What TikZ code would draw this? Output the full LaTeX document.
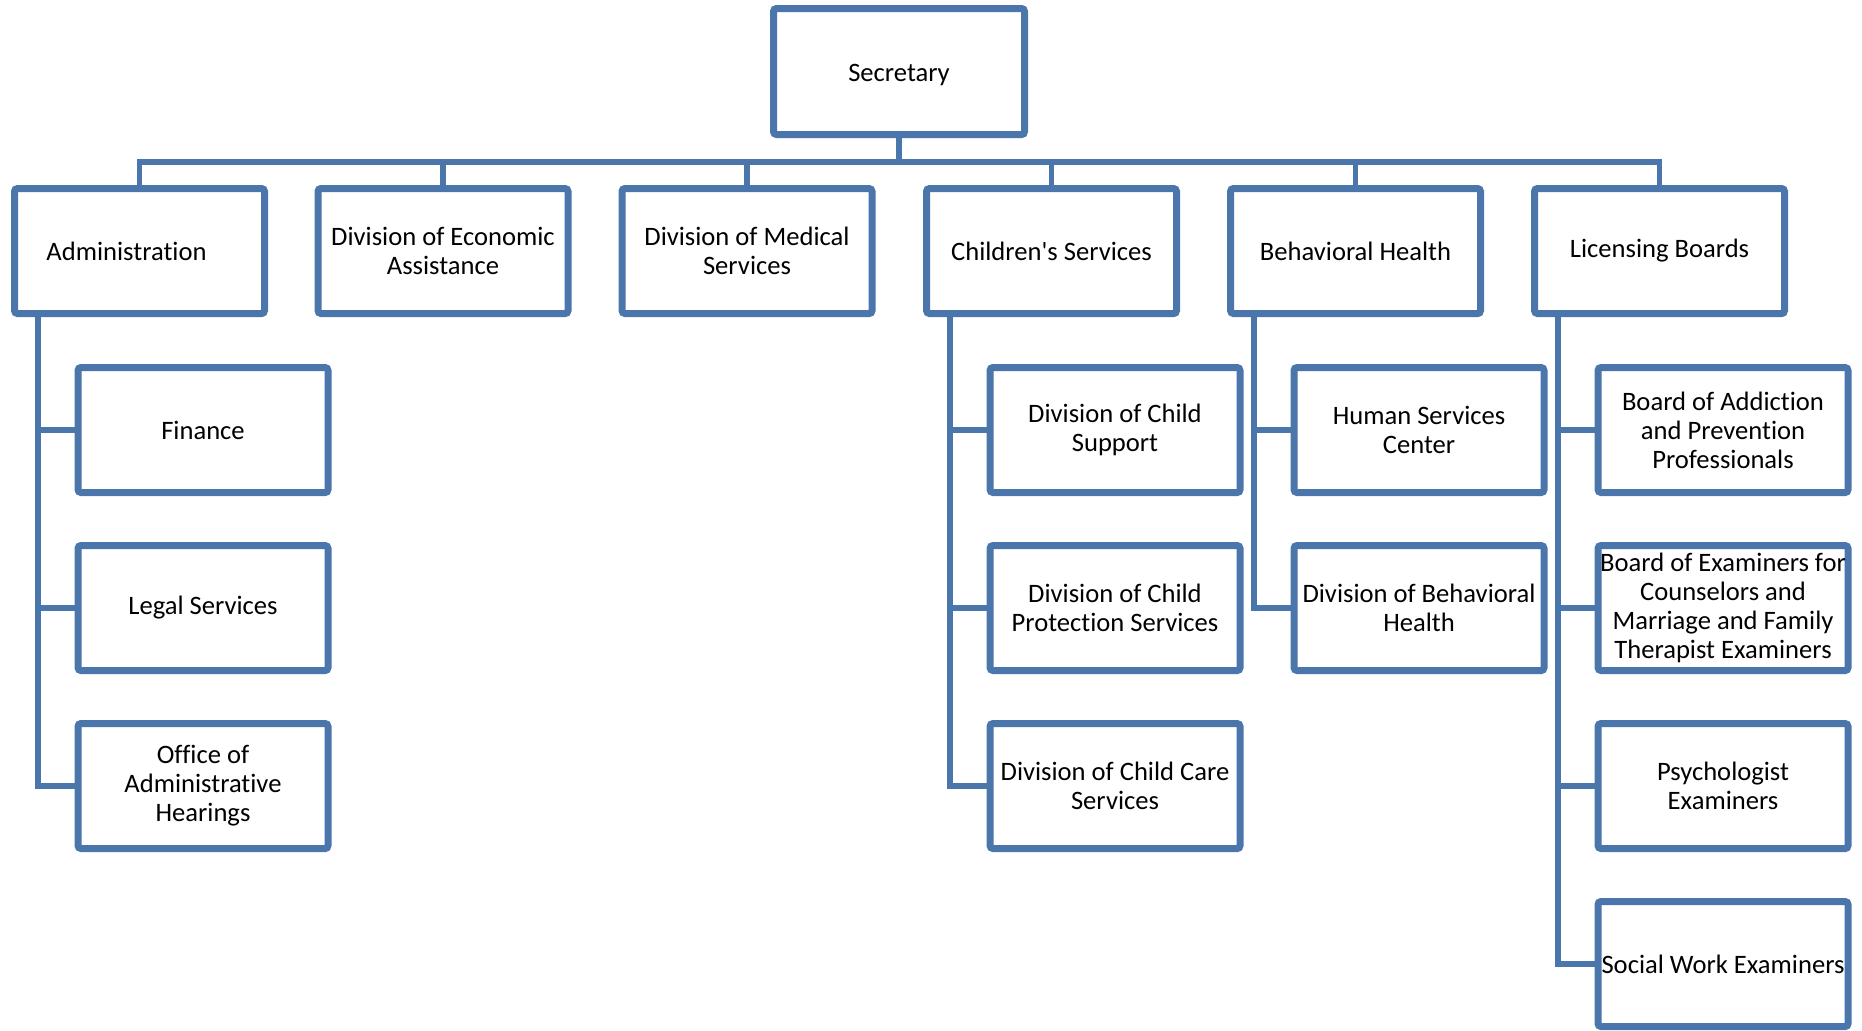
\documentclass[tikz,border=0pt]{standalone}
\usepackage{fontspec}
\setmainfont[Ligatures={NoCommon}]{Carlito}
\usetikzlibrary{shadows,backgrounds}
\definecolor{bblue}{HTML}{4A76AC}
\begin{document}
\begin{tikzpicture}[x=0.5pt,y=-0.5pt,
  box/.style={draw=bblue, line width=3.5pt, fill=white, rounded corners=1.5pt,
    minimum width=125pt, minimum height=62.5pt, inner sep=0pt, align=center,
    font=\fontsize{13.3}{14.5}\selectfont,
    drop shadow={opacity=0.3, shadow xshift=1.2pt, shadow yshift=-1.5pt, fill=black!60}},
  conn/.style={draw=bblue, line width=2.8pt}]
\useasboundingbox (0,0) rectangle (1862,1030);
% top
\node[box, minimum width=125.5pt, minimum height=63pt] (sec) at (899,71.5) {\raisebox{-1.8pt}[\height][\depth]{Secretary}};
% first level
\node[box] (adm) at (139.5,251) {\kern-6.5pt Administration\kern6.5pt};
\node[box] (eco) at (443,251) {Division of Economic\\Assistance};
\node[box] (med) at (747,251) {Division of Medical\\Services};
\node[box] (chi) at (1051.5,251) {Children\textquotesingle s Services};
\node[box] (beh) at (1355.5,251) {Behavioral Health};
\node[box] (lic) at (1659.5,251) {Licensing Boards};
% second level
\node[box] (fin) at (203,430) {Finance};
\node[box] (leg) at (203,608) {Legal Services};
\node[box] (oah) at (203,786) {Office of\\Administrative\\Hearings};
\node[box] (dcs) at (1115,430) {Division of Child\\Support};
\node[box] (dcp) at (1115,608) {Division of Child\\Protection Services};
\node[box] (dcc) at (1115,786) {Division of Child Care\\Services};
\node[box] (hsc) at (1419,430) {Human Services\\Center};
\node[box] (dbh) at (1419,608) {Division of Behavioral\\Health};
\node[box] (bap) at (1723,430) {Board of Addiction\\and Prevention\\Professionals};
\node[box] (bec) at (1723,608) {Board of Examiners for\\Counselors and\\Marriage and Family\\Therapist Examiners};
\node[box] (psy) at (1723,786) {Psychologist\\Examiners};
\node[box] (swe) at (1723,964) {Social Work Examiners};
% connectors
\coordinate (bus) at (0,162);
\coordinate (va) at (38,0);
\coordinate (vc) at (950,0);
\coordinate (vb) at (1254,0);
\coordinate (vl) at (1558,0);
\begin{scope}[on background layer]
\draw[conn] (sec.south) -- (sec.south |- bus);
\draw[conn] (adm.north) |- (lic.north |- bus) -- (lic.north);
\foreach \n in {eco,med,chi,beh}{\draw[conn] (\n.north) -- (\n.north |- bus);}
\foreach \c in {fin,leg,oah}{\draw[conn] (adm.south -| va) |- (\c.west);}
\foreach \c in {dcs,dcp,dcc}{\draw[conn] (chi.south -| vc) |- (\c.west);}
\foreach \c in {hsc,dbh}{\draw[conn] (beh.south -| vb) |- (\c.west);}
\foreach \c in {bap,bec,psy,swe}{\draw[conn] (lic.south -| vl) |- (\c.west);}
\end{scope}
\end{tikzpicture}
\end{document}
